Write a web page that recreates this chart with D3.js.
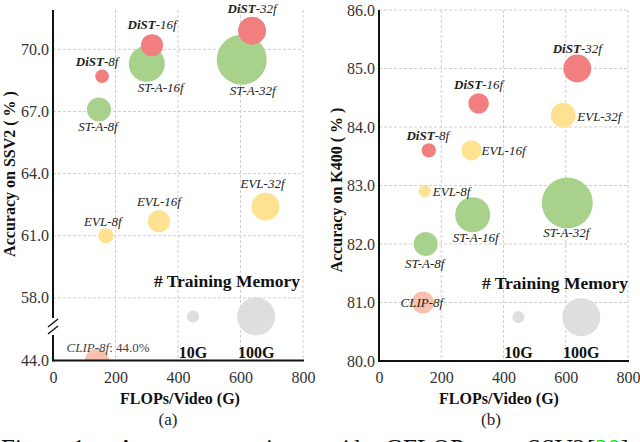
<!DOCTYPE html>
<html><head><meta charset="utf-8">
<script src="https://cdn.jsdelivr.net/npm/d3@7"></script>
<style>
body{margin:0;background:#fff}
svg{display:block;font-family:'Liberation Serif','Times New Roman',serif}
</style>
</head><body>
<svg id="c" width="640" height="442"></svg>
<script>
// ---------- data ----------
const models    = ["ST-A-8f","ST-A-16f","ST-A-32f","EVL-8f","EVL-16f","EVL-32f","DiST-8f","DiST-16f","DiST-32f","CLIP-8f"];
const ssv2Flops = [147, 300, 604, 169, 339, 680, 157, 317, 637, 141];
const ssv2Acc   = [67.1, 69.3, 69.5, 61.0, 61.7, 62.4, 68.7, 70.2, 70.9, 44.0];
const ssv2Mem   = [40, 90, 173, 16, 34, 54, 13, 34, 54, 40];
const k400Flops = [150, 301, 605, 147, 297, 592, 160, 320, 637, 141];
const k400Acc   = [82.0, 82.5, 82.7, 82.9, 83.6, 84.2, 83.6, 84.4, 85.0, 81.0];
const k400Mem   = [40, 85, 180, 10, 28, 43, 14, 29, 54, 34];
const xTicks    = [0, 200, 400, 600, 800];
const ssv2Ticks = [44, 58, 61, 64, 67, 70];
const k400Ticks = [80, 81, 82, 83, 84, 85, 86];
const legendMem    = [10, 100];
const legendLabels = ["10G", "100G"];
const legendFlops  = [448, 650];
const ssv2LegendAcc = 57.1;
const k400LegendAcc = 80.75;
const legendTitle = "# Training Memory";

// ---------- styles ----------
const FONT = "'Liberation Serif','Times New Roman',serif";
const colors = {"ST-A":"#a8d28b","EVL":"#fee291","DiST":"#f17f7f","CLIP":"#f7c1ae"};
const famOf = m => m.replace(/-\d+f$/, "");
const rScale = d3.scaleSqrt().domain([0, 100]).range([0, 19]);

const svg = d3.select("#c").attr("font-family", FONT);

const panels = [
  {id:"a", flops:ssv2Flops, acc:ssv2Acc, mem:ssv2Mem, ticks:ssv2Ticks, legAcc:ssv2LegendAcc,
   x: d3.scaleLinear().domain([0, 800]).range([53, 303]),
   y: d3.scaleLinear().domain([44, 56.4, 71.9]).range([360.5, 331, 10]),
   yTop: 10, title: "Accuracy on SSV2 ( % )", titleX: 15, titleY: 174,
   xTitleX: 180, subX: 168, legTitleX: 227, broken: true,
   lab: {"DiST-8f":[-5,-10,"middle"],"ST-A-8f":[-1,22,"middle"],"DiST-16f":[0,-16,"middle"],
         "ST-A-16f":[14,28,"middle"],"DiST-32f":[0,-18,"middle"],"ST-A-32f":[11,35,"middle"],
         "EVL-32f":[-3,-19,"middle"],"EVL-16f":[0,-15,"middle"],"EVL-8f":[-3,-10,"middle"],
         "CLIP-8f":[-30.5,-8.5,"start"]}},
  {id:"b", flops:k400Flops, acc:k400Acc, mem:k400Mem, ticks:k400Ticks, legAcc:k400LegendAcc,
   x: d3.scaleLinear().domain([0, 800]).range([379, 628]),
   y: d3.scaleLinear().domain([80, 86]).range([361, 10]),
   yTop: 10, title: "Accuracy on K400 ( % )", titleX: 342, titleY: 190,
   xTitleX: 499, subX: 491, legTitleX: 555, broken: false,
   lab: {"DiST-32f":[0,-16,"middle"],"EVL-32f":[14,6,"start"],"DiST-16f":[0,-15,"middle"],
         "DiST-8f":[-1,-10,"middle"],"EVL-16f":[10,5,"start"],"EVL-8f":[8,5,"start"],
         "ST-A-32f":[-1,34,"middle"],"ST-A-16f":[3,27,"middle"],"ST-A-8f":[-1,24,"middle"],
         "CLIP-8f":[-1,4,"middle"]}}
];

panels.forEach(p => {
  const g = svg.append("g");
  const x = p.x, y = p.y;
  const x0 = x.range()[0], x1 = x.range()[1];
  const yB = y(y.domain()[0]);

  // grid
  const gridY = p.ticks.filter(t => t !== y.domain()[0]);
  g.selectAll(".gy").data(gridY).join("line")
    .attr("x1", x0).attr("x2", x1).attr("y1", d => y(d)).attr("y2", d => y(d))
    .attr("stroke", "#cfcfcf").attr("stroke-width", 1).attr("stroke-dasharray", "3,2");
  g.selectAll(".gx").data(xTicks.filter(t => t > 0)).join("line")
    .attr("x1", d => x(d)).attr("x2", d => x(d)).attr("y1", p.yTop).attr("y2", yB)
    .attr("stroke", "#cfcfcf").attr("stroke-width", 1).attr("stroke-dasharray", "3,2");

  // clip
  const cid = "clip" + p.id;
  svg.append("clipPath").attr("id", cid).append("rect")
    .attr("x", x0).attr("y", 0).attr("width", 640 - x0).attr("height", yB);

  const pts = models.map((m, i) => ({m, fam: famOf(m), f: p.flops[i], a: p.acc[i], mem: p.mem[i]}));
  const order = ["CLIP","ST-A","EVL","DiST"];
  pts.sort((a, b) => order.indexOf(a.fam) - order.indexOf(b.fam));

  g.append("g").attr("clip-path", `url(#${cid})`)
    .selectAll("circle").data(pts).join("circle")
    .attr("cx", d => x(d.f)).attr("cy", d => y(d.a)).attr("r", d => rScale(d.mem))
    .attr("fill", d => colors[d.fam]);

  // legend bubbles
  g.selectAll(".lb").data(legendMem).join("circle")
    .attr("cx", (d, i) => x(legendFlops[i])).attr("cy", y(p.legAcc)).attr("r", d => rScale(d))
    .attr("fill", "#dedede");
  g.selectAll(".lt").data(legendLabels).join("text")
    .attr("x", (d, i) => x(legendFlops[i])).attr("y", 358)
    .attr("text-anchor", "middle").attr("font-weight", "bold").attr("font-size", 16)
    .attr("fill", "#111").text(d => d);
  g.append("text").attr("x", p.legTitleX).attr("y", p.id === "a" ? 287 : 289)
    .attr("text-anchor", "middle").attr("font-weight", "bold").attr("font-size", 17.5)
    .attr("fill", "#111").text(legendTitle);

  // labels
  pts.forEach(d => {
    const o = p.lab[d.m];
    const t = g.append("text").attr("x", x(d.f) + o[0]).attr("y", y(d.a) + o[1])
      .attr("text-anchor", o[2]).attr("font-size", 13).attr("font-style", "italic").attr("fill", "#222");
    if (d.fam === "DiST") {
      t.append("tspan").attr("font-weight", "bold").text("DiST");
      t.append("tspan").text(d.m.slice(4));
    } else if (d.fam === "CLIP" && p.id === "a") {
      t.attr("fill", "#444");
      t.append("tspan").text(d.m);
      t.append("tspan").attr("font-style", "normal").text(": " + d.a.toFixed(1) + "%");
    } else {
      t.text(d.m);
    }
  });

  // axes
  const ya = g.append("g").attr("transform", `translate(${x0},0)`)
    .call(d3.axisLeft(y).tickValues(p.ticks).tickSize(0).tickPadding(4).tickFormat(d3.format(".1f")));
  ya.attr("font-family", FONT).attr("font-size", 16);
  ya.select(".domain").remove();
  ya.selectAll("text").attr("fill", "#333");
  const xa = g.append("g").attr("transform", `translate(0,${yB})`)
    .call(d3.axisBottom(x).tickValues(xTicks).tickSize(0).tickPadding(11));
  xa.attr("font-family", FONT).attr("font-size", 16);
  xa.select(".domain").remove();
  xa.selectAll("text").attr("fill", "#333");

  // axis lines
  g.append("line").attr("x1", x0).attr("x2", x1 + 1).attr("y1", yB).attr("y2", yB)
    .attr("stroke", "#111").attr("stroke-width", 2);
  if (p.broken) {
    g.append("line").attr("x1", x0).attr("x2", x0).attr("y1", p.yTop).attr("y2", 318)
      .attr("stroke", "#111").attr("stroke-width", 2);
    g.append("line").attr("x1", x0).attr("x2", x0).attr("y1", 335).attr("y2", yB + 1)
      .attr("stroke", "#111").attr("stroke-width", 2);
    [0, 7].forEach(off => g.append("line")
      .attr("x1", x0 - 5).attr("y1", 327 + off).attr("x2", x0 + 5).attr("y2", 319 + off)
      .attr("stroke", "#111").attr("stroke-width", 1.5));
  } else {
    g.append("line").attr("x1", x0).attr("x2", x0).attr("y1", p.yTop).attr("y2", yB + 1)
      .attr("stroke", "#111").attr("stroke-width", 2);
  }

  // titles
  g.append("text").attr("transform", `translate(${p.titleX},${p.titleY}) rotate(-90)`)
    .attr("text-anchor", "middle").attr("font-weight", "bold").attr("font-size", 16)
    .attr("fill", "#111").text(p.title);
  g.append("text").attr("x", p.xTitleX).attr("y", 404).attr("text-anchor", "middle")
    .attr("font-weight", "bold").attr("font-size", 16).attr("fill", "#111").text("FLOPs/Video (G)");
  g.append("text").attr("x", p.subX).attr("y", 425).attr("text-anchor", "middle")
    .attr("font-size", 17).attr("fill", "#222").text("(" + p.id + ")");
});

// caption (cut off at bottom)
const cap = svg.append("g").attr("font-size", 25).attr("fill", "#111");
cap.append("text").attr("x", 1).attr("y", 457).text("Figure 1:");
cap.append("text").attr("x", 117).attr("y", 457).attr("textLength", 259).text("Accuracy comparison consider");
cap.append("text").attr("x", 385).attr("y", 457).text("GFLOPs on");
cap.append("text").attr("x", 527).attr("y", 457).text("SSV2");
const c4 = cap.append("text").attr("x", 587).attr("y", 457);
c4.append("tspan").text("[");
c4.append("tspan").attr("fill", "#00e000").text("20");
c4.append("tspan").text("]");
</script>
</body></html>
